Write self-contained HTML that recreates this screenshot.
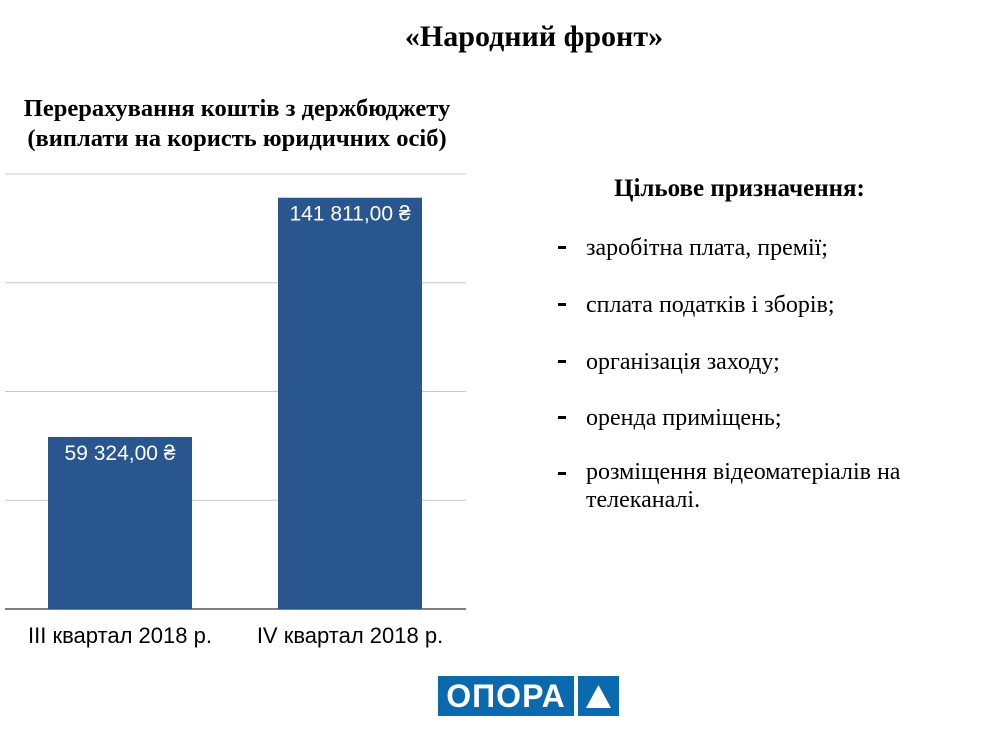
<!DOCTYPE html>
<html><head><meta charset="utf-8"><style>
body{margin:0;width:1004px;height:737px;background:#fff;position:relative;overflow:hidden;font-family:"Liberation Serif",serif;}
.abs{position:absolute;}
.b{font-weight:bold;}
.item{position:absolute;left:586px;font-size:24px;color:#000;line-height:28px;}
.dash{position:absolute;left:558px;width:8px;height:3px;background:#000;}
</style></head><body>
<div class="abs b" style="left:0;width:1068px;top:20px;text-align:center;font-size:30px;">«Народний фронт»</div>
<div class="abs b" style="left:0;width:474px;top:94px;text-align:center;font-size:24.5px;line-height:30px;">Перерахування коштів з держбюджету<br>(виплати на користь юридичних осіб)</div>
<svg class="abs" style="left:0;top:0" width="480" height="660">
<g id="grid"></g><g id="bars"></g>
</svg>
<div class="abs b" style="left:614px;top:175px;font-size:25px;">Цільове призначення:</div>
<div>
<div class="dash" style="top:246px"></div><div class="item" style="top:234px">заробітна плата, премії;</div>
<div class="dash" style="top:303px"></div><div class="item" style="top:291px">сплата податків і зборів;</div>
<div class="dash" style="top:360px"></div><div class="item" style="top:348px">організація заходу;</div>
<div class="dash" style="top:416px"></div><div class="item" style="top:404px">оренда приміщень;</div>
<div class="dash" style="top:472px"></div><div class="item" style="top:458px;line-height:28px;">розміщення відеоматеріалів на<br>телеканалі.</div>
</div>
<div class="abs" style="left:438px;top:676px;width:136px;height:40px;background:#0b69ad;color:#fff;font-family:'Liberation Sans',sans-serif;font-weight:bold;font-size:32px;line-height:40px;text-align:center;letter-spacing:1px;">ОПОРА</div>
<div class="abs" style="left:578px;top:676px;width:41px;height:40px;background:#0b69ad;">
<svg width="41" height="40"><polygon points="20.5,9 33,32 8,32" fill="#fff"/></svg></div>
<script>
const categories=["III квартал 2018 р.","IV квартал 2018 р."];
const values=[59324,141811];
const labels=["59 324,00 ₴","141 811,00 ₴"];
const ticks=[0,37500,75000,112500,150000];
const ns="http://www.w3.org/2000/svg";
const x0=5,x1=466,yBase=609,yTop=174,yMax=150000;
const y=v=>yBase-(v/yMax)*(yBase-yTop);
const bw=144,slot=230,off=43;
const g=document.getElementById('grid'),b=document.getElementById('bars');
ticks.forEach((t,i)=>{const l=document.createElementNS(ns,'line');


l.setAttribute('x1',x0);l.setAttribute('x2',x1);l.setAttribute('y1',y(t));l.setAttribute('y2',y(t));
l.setAttribute('stroke',t===0?'#333':'#c8c8c8');l.setAttribute('stroke-width',t===0?1.2:1);g.appendChild(l);});
values.forEach((v,i)=>{const bx=x0+off+i*slot;
const r=document.createElementNS(ns,'rect');


r.setAttribute('x',bx);r.setAttribute('y',y(v));r.setAttribute('width',bw);r.setAttribute('height',yBase-y(v));r.setAttribute('fill','#29568f');b.appendChild(r);
const t=document.createElementNS(ns,'text');


t.setAttribute('x',bx+bw/2);t.setAttribute('y',y(v)+23);t.setAttribute('text-anchor','middle');t.setAttribute('fill','#fff');t.setAttribute('font-size','21');t.setAttribute('font-family','Liberation Sans, sans-serif');t.textContent=labels[i];b.appendChild(t);
const c=document.createElementNS(ns,'text');


c.setAttribute('x',bx+bw/2);c.setAttribute('y',643);c.setAttribute('text-anchor','middle');c.setAttribute('fill','#000');c.setAttribute('font-size','22');c.setAttribute('font-family','Liberation Sans, sans-serif');c.textContent=categories[i];b.appendChild(c);});
</script>
</body></html>
